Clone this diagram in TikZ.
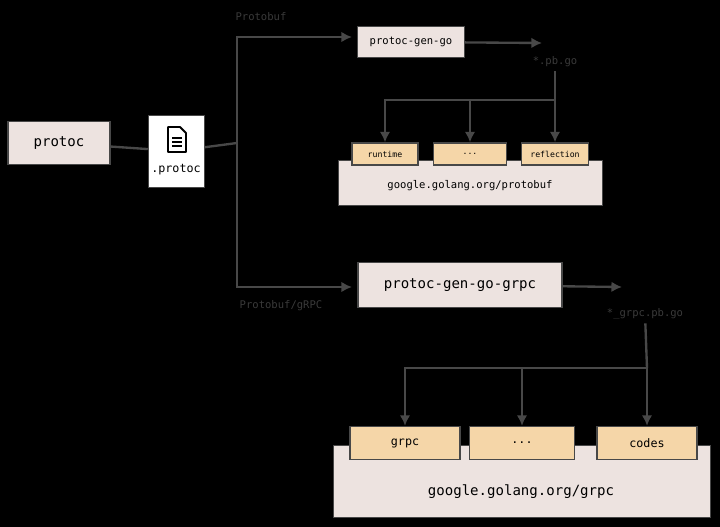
\documentclass[tikz,border=0pt]{standalone}
\usepackage{fontspec}
\setmonofont{DejaVu Sans Mono}
\usetikzlibrary{arrows.meta}
\definecolor{wire}{HTML}{484848}
\definecolor{boxfill}{HTML}{EDE3E0}
\definecolor{libfill}{HTML}{F5D6A8}
\definecolor{dimtext}{HTML}{3A3A3A}
\tikzset{
	box/.style={draw=wire, line width=1.2pt, fill=boxfill, inner sep=0pt, font=\ttfamily},
	lib/.style={draw=wire, line width=1.2pt, fill=libfill, inner sep=0pt, font=\ttfamily},
	wire/.style={draw=wire, line width=2pt},
	flow/.style={wire, -{Latex[length=9pt,width=9pt]}},
	dim/.style={text=dimtext, font=\ttfamily\small}
}
\begin{document}
\begin{tikzpicture}[x=0.03cm, y=-0.03cm]
	\useasboundingbox (0,0) rectangle (720,527);
	\fill[black] (0,0) rectangle (720,527);
	% Quelle
	\node[box, minimum width=3.06cm, minimum height=1.29cm, font=\ttfamily\large] (protoc) at (59,143) {protoc};
	\node[draw=wire, fill=white, minimum width=1.68cm, minimum height=2.16cm] (file) at (176,151) {};
	% Dokument-Symbol
	\draw[black, line width=1.6pt, line join=round] (168,127) -- (180,127) -- (186,133) -- (186,152) -- (168,152) -- cycle;
	\foreach \y in {138,142,146}
		\draw[black, line width=1.4pt] (172,\y) -- (182,\y);
	\node[font=\ttfamily] (fname) at (176,170) {.protoc};
	\coordinate (split) at (237,143);
	\draw[wire] (protoc) -- (file);
	\draw[wire] (file) -- (split);
	% Generatoren
	\node[box, minimum width=3.21cm, minimum height=0.93cm, font=\ttfamily\small] (gengo) at (411,42) {protoc-gen-go};
	\node[box, minimum width=6.12cm, minimum height=1.35cm, font=\ttfamily\large] (gengrpc) at (460,285) {protoc-gen-go-grpc};
	\draw[flow] (split) |- (352,37);
	\draw[flow] (split) |- (352,287);
	\node[dim] (lblpb) at (261,17) {Protobuf};
	\node[dim] (lblgrpc) at (281,306) {Protobuf/gRPC};
	% Protobuf-Bibliothek
	\node[dim] (pbgo) at (555,62) {*.pb.go};
	\draw[flow] (gengo) -- (542,43);
	\node[box, minimum width=7.92cm, minimum height=1.35cm, anchor=north west] (pblib) at (338,160) {};
	\node[font=\ttfamily\small] at (470,186) {google.golang.org/protobuf};
	\node[lib, minimum width=1.98cm, minimum height=0.66cm, font=\ttfamily\scriptsize] (runtime) at (385,154) {runtime};
	\node[lib, minimum width=2.19cm, minimum height=0.66cm, font=\ttfamily\scriptsize] (dots1) at (470,154) {...};
	\node[lib, minimum width=2.01cm, minimum height=0.66cm, font=\ttfamily\scriptsize] (reflection) at (555,154) {reflection};
	\coordinate (pbsplit) at (555,100);
	\draw[wire] (pbgo) -- (pbsplit);
	\draw[flow] (pbsplit) -- (reflection);
	\draw[flow] (pbsplit) -| (runtime);
	\draw[flow] (dots1 |- pbsplit) -- (dots1);
	% gRPC-Bibliothek
	\node[dim] (grpcgo) at (645,314) {*\_grpc.pb.go};
	\draw[flow] (gengrpc) -- (622,287);
	\node[box, minimum width=11.31cm, minimum height=2.16cm, anchor=north west] (grpclib) at (333,445) {};
	\node[font=\ttfamily\large] at (521,492) {google.golang.org/grpc};
	\node[lib, minimum width=3.3cm, minimum height=0.99cm] (grpc) at (405,443) {grpc};
	\node[lib, minimum width=3.15cm, minimum height=0.99cm] (dots2) at (522,443) {...};
	\node[lib, minimum width=3cm, minimum height=0.99cm] (codes) at (647,443) {codes};
	\coordinate (grpcsplit) at (647,368);
	\draw[wire] (grpcgo) -- (grpcsplit);
	\draw[flow] (grpcsplit) -- (codes);
	\draw[flow] (grpcsplit) -| (grpc);
	\draw[flow] (dots2 |- grpcsplit) -- (dots2);
\end{tikzpicture}
\end{document}
